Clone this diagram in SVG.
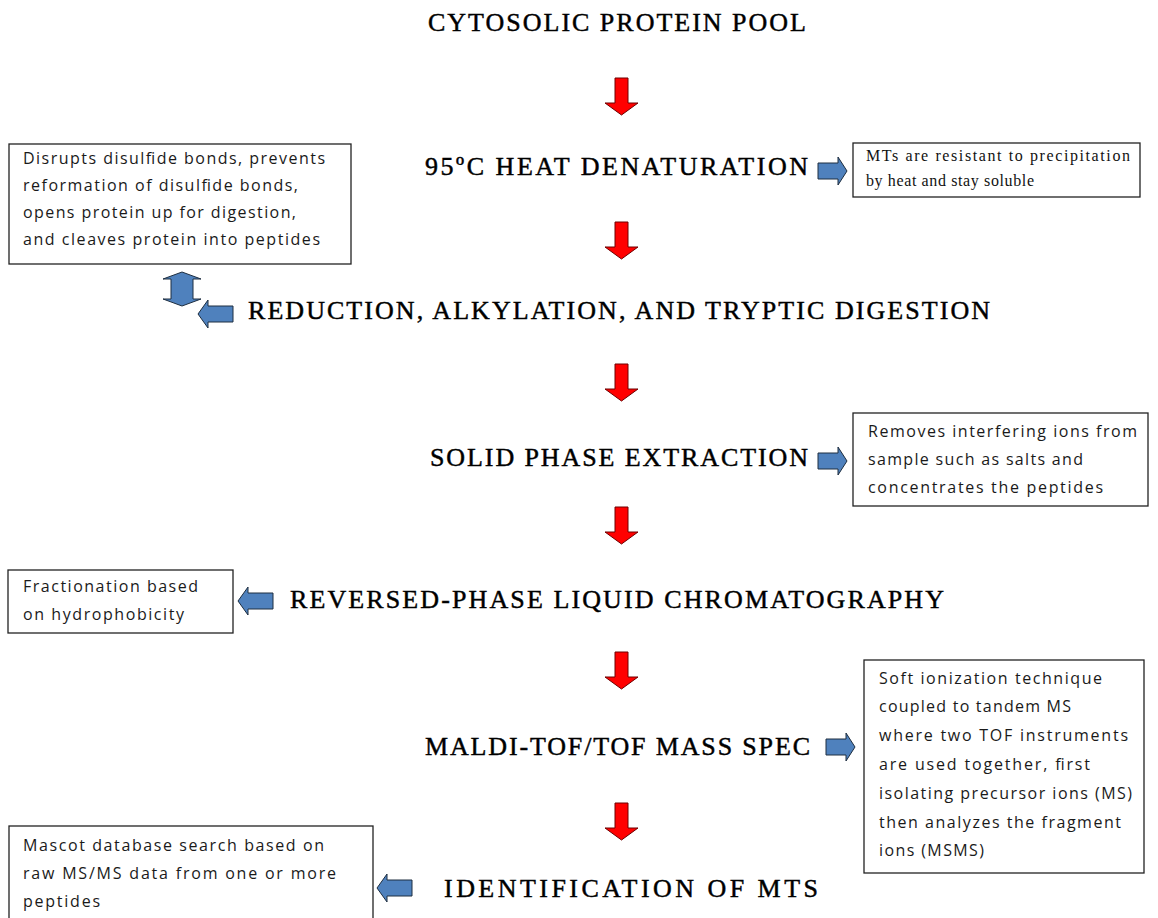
<svg xmlns="http://www.w3.org/2000/svg" xmlns:xlink="http://www.w3.org/1999/xlink" width="1158" height="918" viewBox="0 0 1158 918">
<style>
.h{font-family:"Liberation Serif","Times New Roman",serif;font-size:26px;fill:#000;stroke:#000;stroke-width:0.45;}
.t{font-family:"Open Sans","DejaVu Sans",sans-serif;font-size:16px;fill:#1a1a1a;}
.s{font-family:"Liberation Serif","Times New Roman",serif;font-size:16px;fill:#111;}
.box{fill:#fff;stroke:#222;stroke-width:1.3;}
.red{fill:#ff0000;stroke:#6e0000;stroke-width:1;}
.blue{fill:#4f81bd;stroke:#1e2e40;stroke-width:1;}
</style>
<defs>
<path id="down" d="M10,0 H23 V25 H33 L16.5,37 L0,25 H10 Z"/>
<path id="right" d="M0,6 H20 V0 L29,14 L20,28 V22 H0 Z"/>
<path id="left" d="M0,14 L10,0 V6 H35 V22 H10 V28 Z"/>
<path id="updown" d="M19,0 L38,7 H30 V27 H38 L19,34 L0,27 H8 V7 H0 Z"/>
</defs>
<rect width="1158" height="918" fill="#fff"/>
<g id="connectors">
<use xlink:href="#down" class="red" x="605" y="78"/>
<use xlink:href="#down" class="red" x="605" y="222"/>
<use xlink:href="#down" class="red" x="605" y="364"/>
<use xlink:href="#down" class="red" x="605" y="507"/>
<use xlink:href="#down" class="red" x="605" y="652"/>
<use xlink:href="#down" class="red" x="605" y="803"/>
<use xlink:href="#right" class="blue" x="818" y="157"/>
<use xlink:href="#right" class="blue" x="818" y="447"/>
<use xlink:href="#right" class="blue" x="826" y="733"/>
<use xlink:href="#left" class="blue" x="198" y="300"/>
<use xlink:href="#left" class="blue" x="238" y="587"/>
<use xlink:href="#left" class="blue" x="377" y="874"/>
<use xlink:href="#updown" class="blue" x="163" y="272"/>
</g>
<g id="step-pool">
<text class="h" x="428" y="31" textLength="378" lengthAdjust="spacing">CYTOSOLIC PROTEIN POOL</text>
</g>
<g id="step-heat">
<text class="h" x="425" y="175" textLength="383" lengthAdjust="spacing">95ºC HEAT DENATURATION</text>
</g>
<g id="note-heat">
<rect class="box" x="853" y="143" width="287" height="54"/>
<text class="s" x="866" y="161" textLength="264" lengthAdjust="spacing">MTs are resistant to precipitation</text>
<text class="s" x="866" y="186" textLength="168" lengthAdjust="spacing">by heat and stay soluble</text>
</g>
<g id="note-reduction">
<rect class="box" x="9" y="144" width="342" height="120"/>
<text class="t" x="23" y="164" textLength="302" lengthAdjust="spacing">Disrupts disulfide bonds, prevents</text>
<text class="t" x="23" y="191" textLength="275" lengthAdjust="spacing">reformation of disulfide bonds,</text>
<text class="t" x="23" y="218" textLength="273" lengthAdjust="spacing">opens protein up for digestion,</text>
<text class="t" x="23" y="245" textLength="297" lengthAdjust="spacing">and cleaves protein into peptides</text>
</g>
<g id="step-reduction">
<text class="h" x="248" y="319" textLength="742" lengthAdjust="spacing">REDUCTION, ALKYLATION, AND TRYPTIC DIGESTION</text>
</g>
<g id="step-spe">
<text class="h" x="430" y="466" textLength="378" lengthAdjust="spacing">SOLID PHASE EXTRACTION</text>
</g>
<g id="note-spe">
<rect class="box" x="853" y="413" width="295" height="93"/>
<text class="t" x="868" y="437" textLength="269" lengthAdjust="spacing">Removes interfering ions from</text>
<text class="t" x="868" y="465" textLength="215" lengthAdjust="spacing">sample such as salts and</text>
<text class="t" x="868" y="493" textLength="235" lengthAdjust="spacing">concentrates the peptides</text>
</g>
<g id="note-rplc">
<rect class="box" x="8" y="570" width="225" height="63"/>
<text class="t" x="23" y="592" textLength="175" lengthAdjust="spacing">Fractionation based</text>
<text class="t" x="23" y="620" textLength="161" lengthAdjust="spacing">on hydrophobicity</text>
</g>
<g id="step-rplc">
<text class="h" x="290" y="608" textLength="654" lengthAdjust="spacing">REVERSED-PHASE LIQUID CHROMATOGRAPHY</text>
</g>
<g id="step-maldi">
<text class="h" x="425" y="755" textLength="385" lengthAdjust="spacing">MALDI-TOF/TOF MASS SPEC</text>
</g>
<g id="note-maldi">
<rect class="box" x="864" y="660" width="280" height="213"/>
<text class="t" x="879" y="684" textLength="223" lengthAdjust="spacing">Soft ionization technique</text>
<text class="t" x="879" y="712" textLength="192" lengthAdjust="spacing">coupled to tandem MS</text>
<text class="t" x="879" y="741" textLength="249" lengthAdjust="spacing">where two TOF instruments</text>
<text class="t" x="879" y="770" textLength="211" lengthAdjust="spacing">are used together, first</text>
<text class="t" x="879" y="799" textLength="253" lengthAdjust="spacing">isolating precursor ions (MS)</text>
<text class="t" x="879" y="828" textLength="242" lengthAdjust="spacing">then analyzes the fragment</text>
<text class="t" x="879" y="856" textLength="105" lengthAdjust="spacing">ions (MSMS)</text>
</g>
<g id="note-ident">
<rect class="box" x="9" y="826" width="364" height="100"/>
<text class="t" x="23" y="851" textLength="301" lengthAdjust="spacing">Mascot database search based on</text>
<text class="t" x="23" y="879" textLength="313" lengthAdjust="spacing">raw MS/MS data from one or more</text>
<text class="t" x="23" y="907" textLength="77" lengthAdjust="spacing">peptides</text>
</g>
<g id="step-ident">
<text class="h" x="444" y="897" textLength="374" lengthAdjust="spacing">IDENTIFICATION OF MTS</text>
</g>
</svg>
